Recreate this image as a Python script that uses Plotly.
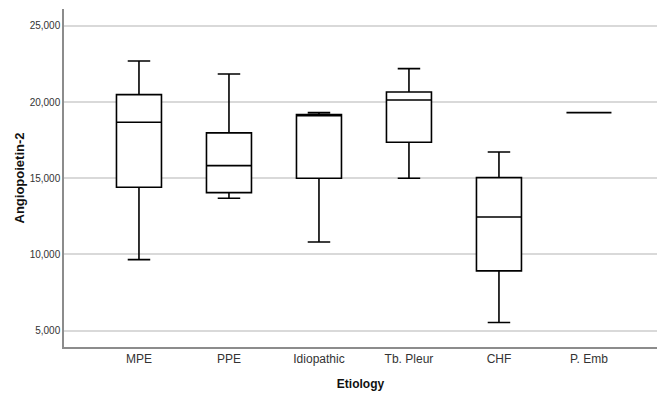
import plotly.graph_objects as go

categories = ["MPE", "PPE", "Idiopathic", "Tb. Pleur", "CHF", "P. Emb"]
lower_whisker = [9660, 13690, 10820, 15000, 5525, 19310]
q1 = [14410, 14060, 15000, 17370, 8920, 19310]
median = [18680, 15830, 19130, 20140, 12460, 19310]
q3 = [20490, 17980, 19180, 20670, 15040, 19310]
upper_whisker = [22700, 21850, 19310, 22200, 16730, 19310]
y_ticks = [5000, 10000, 15000, 20000, 25000]

fig = go.Figure()
fig.add_trace(go.Box(
    x=categories,
    q1=q1, median=median, q3=q3,
    lowerfence=lower_whisker, upperfence=upper_whisker,
    fillcolor="white",
    line=dict(color="black", width=1.6),
    whiskerwidth=0.5,
    boxpoints=False,
    showlegend=False,
    hoverinfo="skip",
))

fig.update_layout(
    width=657, height=394,
    margin=dict(l=64, r=0, t=9, b=47),
    plot_bgcolor="white", paper_bgcolor="white",
    boxgap=0.5, boxgroupgap=0,
    font=dict(family="Liberation Sans, Arial, sans-serif", color="#333333"),
    xaxis=dict(
        type="category",
        range=[-0.833, 5.756],
        showgrid=False,
        showline=True, linecolor="#8c8c8c", linewidth=1.5,
        ticks="", tickfont=dict(size=12, color="#333333"),
        title=dict(text="<b>Etiology</b>", font=dict(size=12, color="#111111"), standoff=14),
        zeroline=False,
    ),
    yaxis=dict(
        range=[3920, 26116],
        tickvals=y_ticks,
        tickformat=",d",
        showgrid=True, gridcolor="#d9d9d9", gridwidth=1.5,
        showline=True, linecolor="#8c8c8c", linewidth=1.5,
        ticks="", tickfont=dict(size=10, color="#333333"),
        title=dict(text="<b>Angiopoietin-2</b>", font=dict(size=13, color="#111111"), standoff=2),
        zeroline=False,
    ),
)

fig.write_html("out.html")
